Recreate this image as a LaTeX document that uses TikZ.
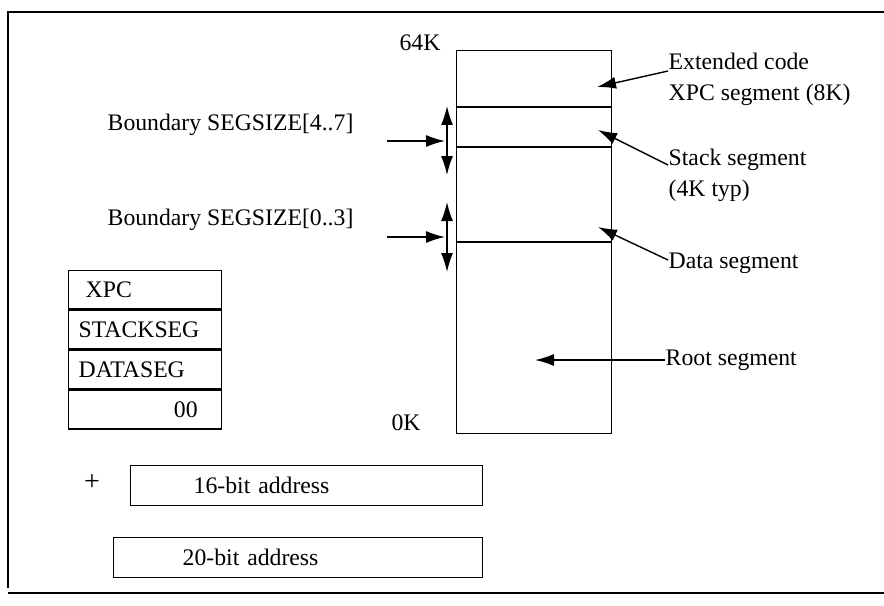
\documentclass[tikz,border=0pt]{standalone}
\usepackage{fontspec}
\setmainfont{Liberation Serif}
\usepackage{tikz}
\usetikzlibrary{shapes,arrows,arrows.meta,positioning,calc,fit}

\begin{document}
\begin{tikzpicture}[x=0.02cm, y=-0.02cm, line width=0.8pt, >={Latex[length=3.8mm,width=2.4mm]},
        font=\fontsize{13.5}{17.5}\selectfont,
        regrow/.style={draw, minimum height=0.77cm, text width=2.66cm, inner xsep=0.2cm, inner ysep=0pt, align=left},
        addrbox/.style={draw, minimum height=0.8cm, inner xsep=0pt, inner ysep=0pt, align=left},
        seglabel/.style={anchor=west, align=left, inner sep=0pt}]
        \useasboundingbox (0,0) rectangle (884,605);

        % Frame
        \draw[line width=1.2pt] (884,12) -- (8,12) -- (8,588);
        \draw[line width=1.2pt] (8,593) -- (884,593);

        % Memory map
        \node (mem) [draw, minimum width=3.1cm, minimum height=7.66cm, inner sep=0pt, anchor=north west] at (456,50) {};
        \foreach \y in {107,147,242}
            \draw (mem.west |- 0,\y) -- (mem.east |- 0,\y);
        \node (top) at (420,43) {64K};
        \node (bottom) at (406,423) {0K};

        % Segment labels and arrows
        \node (xpclbl) [seglabel] at (668,79) {Extended code\\XPC segment (8K)};
        \node (stacklbl) [seglabel] at (668,175) {Stack segment\\(4K typ)};
        \node (datalbl) [seglabel] at (668,263) {Data segment};
        \node (rootlbl) [seglabel] at (665,360) {Root segment};

        \coordinate (xpctip) at (597,87);
        \coordinate (stacktip) at (598,130);
        \coordinate (datatip) at (598,227);
        \coordinate (roottip) at (535,360);

        \draw[->] ([yshift=0.16cm]xpclbl.west) -- (xpctip);
        \draw[->] ([yshift=0.2cm]stacklbl.west) -- (stacktip);
        \draw[->] ([yshift=0.06cm]datalbl.west) -- (datatip);
        \draw[->] (rootlbl.west) -- (roottip);

        % Boundaries
        \node (bnd47) [anchor=west, inner sep=0pt] at (107,125) {Boundary SEGSIZE[4..7]};
        \node (bnd03) [anchor=west, inner sep=0pt] at (107,220) {Boundary SEGSIZE[0..3]};

        \coordinate (b47up) at (447,106);
        \coordinate (b47dn) at (447,175);
        \coordinate (b47in) at (387,141);
        \coordinate (b47at) at (445,141);
        \coordinate (b03up) at (447,202);
        \coordinate (b03dn) at (447,272);
        \coordinate (b03in) at (387,237);
        \coordinate (b03at) at (445,237);

        \draw[<->] (b47up) -- (b47dn);
        \draw[->] (b47in) -- (b47at);
        \draw[<->] (b03up) -- (b03dn);
        \draw[->] (b03in) -- (b03at);

        % Registers
        \node (xpc) [regrow, anchor=north west] at (68,270) {\hspace*{0.14cm}XPC};
        \node (stackseg) [regrow, below=0pt of xpc] {STACKSEG};
        \node (dataseg) [regrow, below=0pt of stackseg] {DATASEG};
        \node (zero) [regrow, below=0pt of dataseg, align=right] {00\rule{0.28cm}{0pt}};

        % Addresses
        \node (plus) at (92,483) {\fontsize{16}{18}\selectfont +};
        \node (addr16) [addrbox, text width=7.04cm, anchor=north west] at (130,465) {\hspace*{1.26cm}16-bit address};
        \node (addr20) [addrbox, text width=7.38cm, anchor=north west] at (113,537) {\hspace*{1.38cm}20-bit address};
    \end{tikzpicture}
\end{document}
